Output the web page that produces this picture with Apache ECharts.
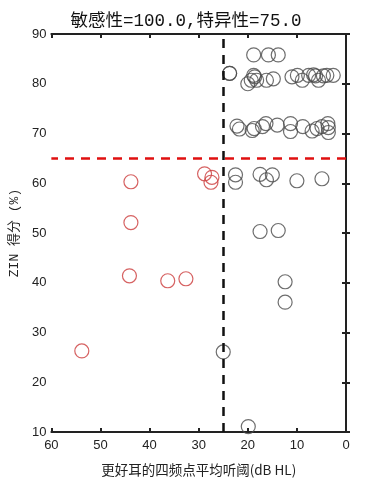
<!DOCTYPE html>
<html><head><meta charset="utf-8">
<script src="https://cdn.jsdelivr.net/npm/echarts@6/dist/echarts.min.js"></script>
<style>html,body{margin:0;padding:0;background:#fff}#c{width:372px;height:486px}</style>
</head><body><div id="c"></div>
<script>
const titleText = '敏感性=100.0,特异性=75.0';
const xName = '更好耳的四频点平均听阈(dB HL)';
const yName = 'ZIN 得分 (%)';
const xTicks = [0, 10, 20, 30, 40, 50, 60];
const yTicks = [10, 20, 30, 40, 50, 60, 70, 80, 90];
const cutoffY = 65;
const cutoffX = 25;
// red group (hearing loss side)
const redX = [43.8, 43.8, 44.1, 36.3, 32.6, 53.8, 28.8, 27.3, 27.5];
const redY = [60.3, 52.1, 41.4, 40.4, 40.8, 26.3, 61.9, 61.2, 60.2];
// black group
const blackX = [18.8, 15.8, 13.8, 23.7, 23.7,
  20.0, 19.3, 18.6, 18.8, 18.2, 16.2, 14.8,
  11.0, 9.9, 8.9, 7.6, 6.6, 6.2, 5.6, 4.6, 3.9, 2.6,
  22.2, 21.7, 19.1, 18.7, 17.0, 16.3, 14.0, 11.3, 11.3, 8.8, 6.9, 5.9, 4.9, 3.7, 3.6, 3.6,
  22.5, 22.5, 17.5, 16.2, 15.0, 10.0, 4.9,
  17.5, 13.8, 12.4, 12.4, 25.0, 19.9];
const blackY = [85.8, 85.8, 85.8, 82.1, 82.1,
  80.0, 80.7, 81.4, 81.7, 80.7, 80.7, 81.0,
  81.4, 81.7, 80.7, 81.7, 81.8, 81.6, 80.7, 81.6, 81.7, 81.7,
  71.5, 70.9, 70.6, 71.0, 71.4, 72.0, 71.7, 72.0, 70.4, 71.4, 70.5, 71.0, 71.4, 72.0, 71.2, 70.2,
  61.7, 60.2, 61.8, 60.7, 61.7, 60.5, 60.9,
  50.3, 50.5, 40.2, 36.1, 26.1, 11.1];

const zip = (a, b) => a.map((v, i) => [v, b[i]]);
const chart = echarts.init(document.getElementById('c'));
const lbl = {color: '#222', fontSize: 13, fontFamily: 'Liberation Sans, Arial, sans-serif'};
const axLine = {show: true, lineStyle: {color: '#222', width: 2}};
const tick = {show: true, inside: true, length: 4, lineStyle: {color: '#222', width: 2}};
const cjkMono = '"Liberation Mono", "Noto Sans CJK SC", monospace';
chart.setOption({
  animation: false,
  backgroundColor: '#fff',
  title: {text: titleText, left: 'center', top: 8, textStyle: {fontFamily: cjkMono, fontSize: 17.5, fontWeight: 'normal', color: '#111'}},
  grid: {left: 48, right: 26, top: 34, bottom: 54},
  xAxis: [
    {type: 'value', min: xTicks[0], max: xTicks[xTicks.length - 1], interval: 10, inverse: true, position: 'bottom',
     name: xName, nameLocation: 'middle', nameGap: 31,
     nameTextStyle: {fontFamily: 'Noto Sans CJK SC', fontSize: 13.5, color: '#222'},
     axisLine: axLine, axisTick: tick, axisLabel: Object.assign({margin: 7}, lbl), splitLine: {show: false}},
    {type: 'value', min: xTicks[0], max: xTicks[xTicks.length - 1], interval: 10, inverse: true, position: 'top',
     axisLine: axLine, axisTick: tick, axisLabel: {show: false}, splitLine: {show: false}}
  ],
  yAxis: [
    {type: 'value', min: yTicks[0], max: yTicks[yTicks.length - 1], interval: 10, position: 'left',
     name: yName, nameLocation: 'middle', nameGap: 28,
     nameTextStyle: {fontFamily: cjkMono, fontSize: 13, color: '#222'},
     axisLine: axLine, axisTick: tick, axisLabel: Object.assign({margin: 5}, lbl), splitLine: {show: false}},
    {type: 'value', min: yTicks[0], max: yTicks[yTicks.length - 1], interval: 10, position: 'right',
     axisLine: axLine, axisTick: tick, axisLabel: {show: false}, splitLine: {show: false}}
  ],
  series: [
    {type: 'scatter', data: zip(blackX, blackY), symbol: 'circle', symbolSize: 14,
     itemStyle: {color: 'rgba(0,0,0,0)', borderColor: '#4a4a4a', borderWidth: 1.2}},
    {type: 'scatter', data: zip(redX, redY), symbol: 'circle', symbolSize: 14,
     itemStyle: {color: 'rgba(0,0,0,0)', borderColor: '#cc3b3b', borderWidth: 1.2}},
    {type: 'line', data: [], markLine: {silent: true, symbol: 'none', label: {show: false},
      data: [
        {yAxis: cutoffY, lineStyle: {color: '#e01010', width: 2.5, type: [9, 7]}},
        {xAxis: cutoffX, lineStyle: {color: '#111', width: 2.5, type: [9, 7]}}
      ]}}
  ]
});
</script></body></html>
